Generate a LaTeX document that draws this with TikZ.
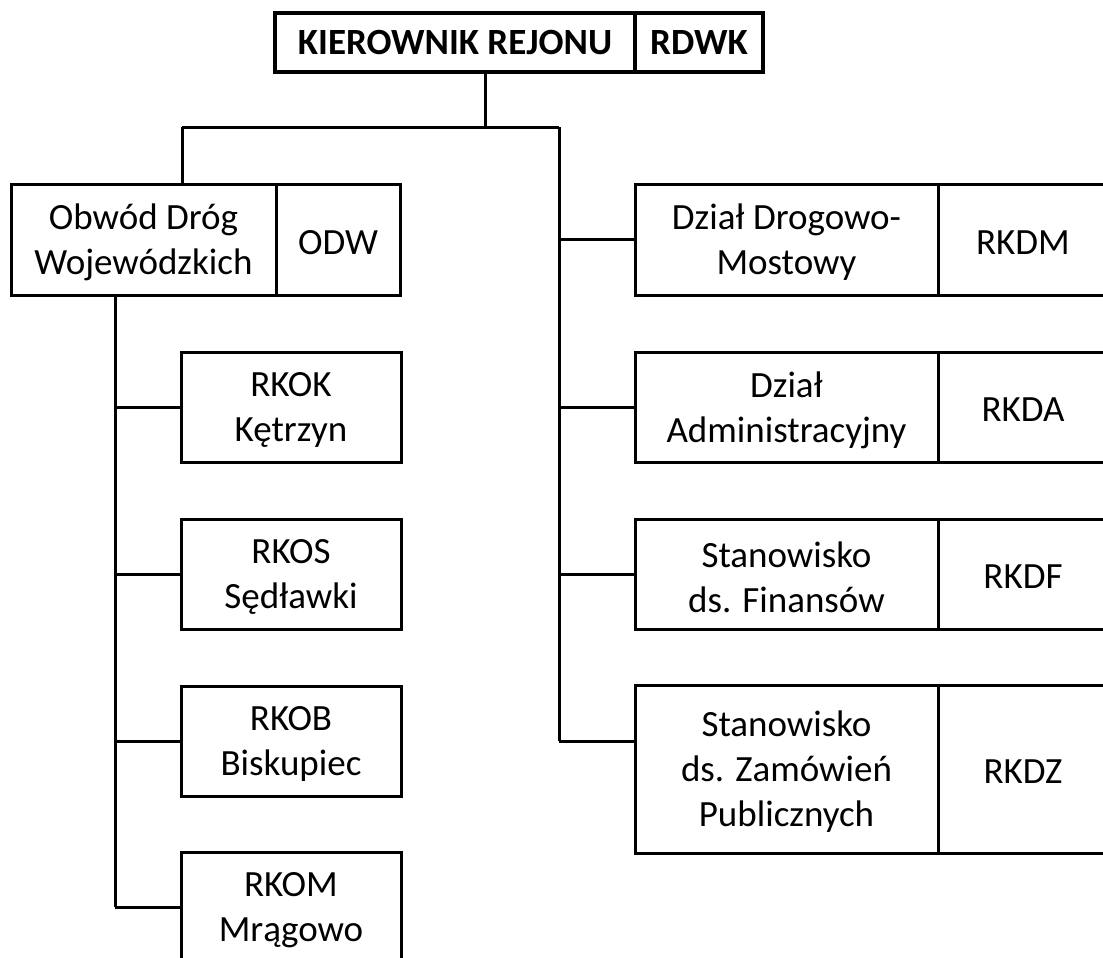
\documentclass[tikz,border=0pt]{standalone}
\usepackage{fontspec}
\setmainfont{Carlito}
\newcommand\boxfont{\fontsize{37}{45}\selectfont}
\begin{document}
\begin{tikzpicture}[x=1pt,y=-1pt]
\tikzset{
  box/.style={draw, line width=3pt, inner sep=0pt, outer sep=0pt, anchor=north west},
  txt/.style={align=center, font=\boxfont, inner sep=0pt, yshift=-3pt},
  topbox/.style={draw, line width=3.5pt, inner sep=0pt, outer sep=0pt, anchor=north west, align=center, font=\boxfont\bfseries},
  link/.style={line width=3pt},
}
\useasboundingbox (0,0) rectangle (1103,958);
\clip (0,0) rectangle (1103,958);
% top
\node[topbox, minimum width=360pt, minimum height=59pt] (kr) at (275,13) {KIEROWNIK REJONU};
\node[topbox, minimum width=128pt, minimum height=59pt] (rdwk) at (635,13) {RDWK};
% ODW
\node[box, minimum width=265pt, minimum height=111pt, label={[txt, name=odwt]center:{Obwód Dróg\\Wojewódzkich}}] (odw) at (11,184) {};
\node[box, minimum width=124pt, minimum height=111pt, label={[txt, name=odwct]center:{ODW}}] (odwc) at (276,184) {};
% left children
\node[box, minimum width=220pt, minimum height=110pt, label={[txt, name=rkokt]center:{RKOK\\Kętrzyn}}] (rkok) at (181,352) {};
\node[box, minimum width=220pt, minimum height=110pt, label={[txt, name=rkost]center:{RKOS\\Sędławki}}] (rkos) at (181,519) {};
\node[box, minimum width=220pt, minimum height=110pt, label={[txt, name=rkobt]center:{RKOB\\Biskupiec}}] (rkob) at (181,686) {};
\node[box, minimum width=220pt, minimum height=110pt, label={[txt, name=rkomt]center:{RKOM\\Mrągowo}}] (rkom) at (181,852) {};
% right children
\node[box, minimum width=303pt, minimum height=111pt, label={[txt, name=ddmt]center:{Dział Drogowo-\\Mostowy}}] (ddm) at (635,184) {};
\node[box, minimum width=170pt, minimum height=111pt, label={[txt, name=ddmct]center:{RKDM}}] (ddmc) at (938,184) {};
\node[box, minimum width=303pt, minimum height=110pt, label={[txt, name=dadt]center:{Dział\\Administracyjny}}] (dad) at (635,352) {};
\node[box, minimum width=170pt, minimum height=110pt, label={[txt, name=dadct]center:{RKDA}}] (dadc) at (938,352) {};
\node[box, minimum width=303pt, minimum height=110pt, label={[txt, name=sfit]center:{Stanowisko\\ds. Finansów}}] (sfi) at (635,519) {};
\node[box, minimum width=170pt, minimum height=110pt, label={[txt, name=sfict]center:{RKDF}}] (sfic) at (938,519) {};
\node[box, minimum width=303pt, minimum height=168pt, label={[txt, name=szpt]center:{Stanowisko\\ds. Zamówień\\Publicznych}}] (szp) at (635,685) {};
\node[box, minimum width=170pt, minimum height=168pt, label={[txt, name=szpct]center:{RKDZ}}] (szpc) at (938,685) {};
% connectors
\coordinate (topdrop) at (485,127);
\coordinate (busl) at (182,127);
\coordinate (busr) at (559,127);
\coordinate (leftsp) at (115,0);
\coordinate (zamb) at (559,741);
\draw[link] (kr.south -| topdrop) -- (topdrop);
\draw[link] (busl) -- (busr);
\draw[link] (busl) -- (busl |- odw.north);
\draw[link] (busr) -- (zamb);
\draw[link] (ddm.west -| busr) -- (ddm.west);
\draw[link] (dad.west -| busr) -- (dad.west);
\draw[link] (sfi.west -| busr) -- (sfi.west);
\draw[link] (zamb) -- (zamb -| szp.west);
\draw[link] (odw.south -| leftsp) -- (rkom.west -| leftsp);
\draw[link] (rkok.west -| leftsp) -- (rkok.west);
\draw[link] (rkos.west -| leftsp) -- (rkos.west);
\draw[link] (rkob.west -| leftsp) -- (rkob.west);
\draw[link] (rkom.west -| leftsp) -- (rkom.west);
\end{tikzpicture}
\end{document}
